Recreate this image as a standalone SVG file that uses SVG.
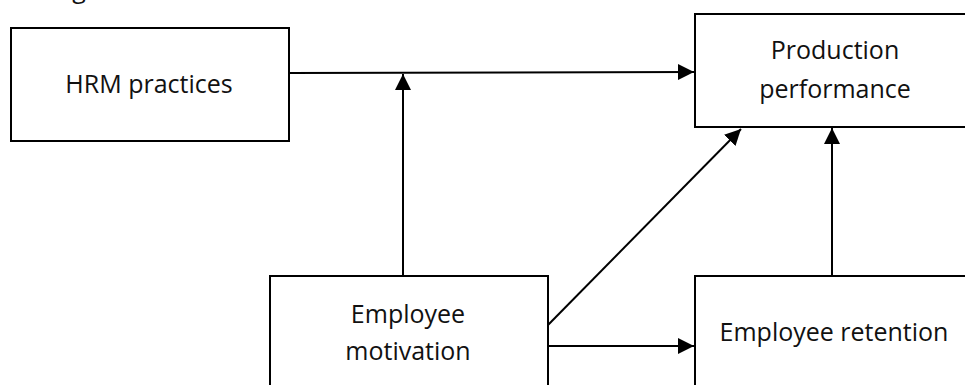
<svg xmlns="http://www.w3.org/2000/svg" width="965" height="385" viewBox="0 0 965 385">
  <style>
    .box { fill: #ffffff; stroke: #000000; stroke-width: 2; }
    .lbl { font-family: "Open Sans", "Noto Sans", "Liberation Sans", sans-serif; font-size: 25px; fill: #111111; text-anchor: middle; font-variant-ligatures: none; }
    .edge { fill: none; stroke: #000000; stroke-width: 2; }
  </style>
  <defs>
    <marker id="arrow" viewBox="0 0 16 16" refX="16" refY="8" markerWidth="16" markerHeight="16" markerUnits="userSpaceOnUse" orient="auto">
      <path d="M0,0 L16,8 L0,16 Z" fill="#000000"/>
    </marker>
  </defs>

  <rect width="965" height="385" fill="#ffffff"/>

  <!-- caption line above the frame, mostly outside the canvas -->
  <text class="lbl" x="79" y="-2">g</text>

  <g id="hrm">
    <rect class="box" x="11" y="28" width="278" height="113"/>
    <text class="lbl" x="149" y="93">HRM practices</text>
  </g>

  <g id="production">
    <rect class="box" x="695" y="14" width="290" height="113"/>
    <text class="lbl" x="835" y="59">Production</text>
    <text class="lbl" x="835" y="98">performance</text>
  </g>

  <g id="motivation">
    <rect class="box" x="270" y="276" width="278" height="130"/>
    <text class="lbl" x="408" y="323">Employee</text>
    <text class="lbl" x="408" y="360">motivation</text>
  </g>

  <g id="retention">
    <rect class="box" x="695" y="276" width="290" height="130"/>
    <text class="lbl" x="834" y="341">Employee retention</text>
  </g>

  <g id="connectors">
    <line class="edge" x1="289" y1="73" x2="694" y2="72" marker-end="url(#arrow)"/>
    <line class="edge" x1="403" y1="276" x2="403" y2="74" marker-end="url(#arrow)"/>
    <line class="edge" x1="548" y1="325" x2="741" y2="129" marker-end="url(#arrow)"/>
    <line class="edge" x1="548" y1="346" x2="694" y2="346" marker-end="url(#arrow)"/>
    <line class="edge" x1="832" y1="276" x2="832" y2="128" marker-end="url(#arrow)"/>
  </g>
</svg>
